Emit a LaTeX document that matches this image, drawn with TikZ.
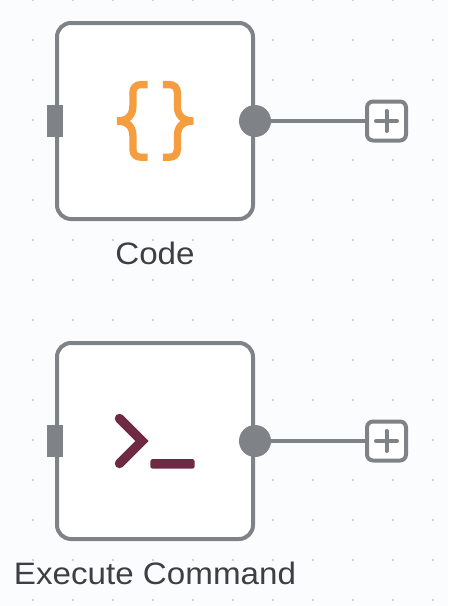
\documentclass[tikz,border=0pt]{standalone}
\usepackage{fontspec}
\setmainfont[FakeStretch=1.07]{Liberation Sans}
\definecolor{bgc}{HTML}{FBFCFE}
\definecolor{gridc}{HTML}{C4C6CA}
\definecolor{linec}{HTML}{7F8286}
\definecolor{txtc}{HTML}{3D3F43}
\definecolor{orangec}{HTML}{F49E3F}
\definecolor{wine}{HTML}{6E2A43}
\tikzset{
  nodebox/.style={draw=linec,fill=white,line width=4pt,rounded corners=14pt,minimum size=196pt,inner sep=0pt,outer sep=0pt},
  inport/.style={fill=linec,minimum width=16pt,minimum height=32pt,inner sep=0pt,outer sep=0pt},
  outport/.style={circle,fill=linec,minimum size=32pt,inner sep=0pt,outer sep=0pt},
  plusbox/.style={draw=linec,fill=white,line width=4pt,rounded corners=6pt,minimum size=39pt,inner sep=0pt,outer sep=0pt},
  wire/.style={draw=linec,line width=3.6pt},
  plusmark/.style={draw=linec,line width=4pt,line cap=round},
  lbl/.style={text=txtc,font=\fontsize{31pt}{34pt}\selectfont,inner sep=0pt,anchor=base},
  griddot/.style={fill=gridc,draw=none}
}
\begin{document}
\begin{tikzpicture}[x=1pt,y=-1pt]
\useasboundingbox (0,0) rectangle (448,606);
\fill[bgc] (0,0) rectangle (448,606);
\foreach \gx in {33,73,...,433}{\foreach \gy in {0,40,...,600}{\fill[griddot] (\gx,\gy) circle[radius=1.1pt];}}
% Code
\node[nodebox] (code) at (155,121) {};
\node[inport] (codein) at (55,121) {};
\node[plusbox] (codeplus) at (386.5,121) {};
\draw[wire] (255,121) -- (codeplus.west);
\node[outport] (codeout) at (255,121) {};
\draw[plusmark] (376,121) -- (397,121) (386.5,111) -- (386.5,131);
\begin{scope}[draw=orangec,line width=7.3pt,line join=round]
\draw (147.5,84.6) -- (141,84.6) .. controls (136,84.6) and (132.9,87.5) .. (132.9,93) -- (132.9,106) .. controls (132.9,115) and (128,121) .. (117,121);
\draw (117,121) .. controls (128,121) and (132.9,127) .. (132.9,136) -- (132.9,149) .. controls (132.9,154.5) and (136,157.2) .. (141,157.2) -- (147.5,157.2);
\draw (162.8,84.6) -- (169.3,84.6) .. controls (174.3,84.6) and (177.4,87.5) .. (177.4,93) -- (177.4,106) .. controls (177.4,115) and (182.3,121) .. (193.3,121);
\draw (193.3,121) .. controls (182.3,121) and (177.4,127) .. (177.4,136) -- (177.4,149) .. controls (177.4,154.5) and (174.3,157.2) .. (169.3,157.2) -- (162.8,157.2);
\end{scope}
\node[lbl] (codelabel) at (155,264.5) {Code};
% Execute Command
\node[nodebox] (exec) at (155,441) {};
\node[inport] (execin) at (55,441) {};
\node[plusbox] (execplus) at (386.5,441) {};
\draw[wire] (255,441) -- (execplus.west);
\node[outport] (execout) at (255,441) {};
\draw[plusmark] (376,441) -- (397,441) (386.5,431) -- (386.5,451);
\draw[wine,line width=9.5pt,line cap=round,line join=miter] (119.5,418.5) -- (142,441) -- (119.5,463.5);
\fill[wine,rounded corners=2.5pt] (150.3,459) rectangle (194.7,468.7);
\node[lbl] (execlabel) at (155,584.5) {Execute Command};
\end{tikzpicture}
\end{document}
